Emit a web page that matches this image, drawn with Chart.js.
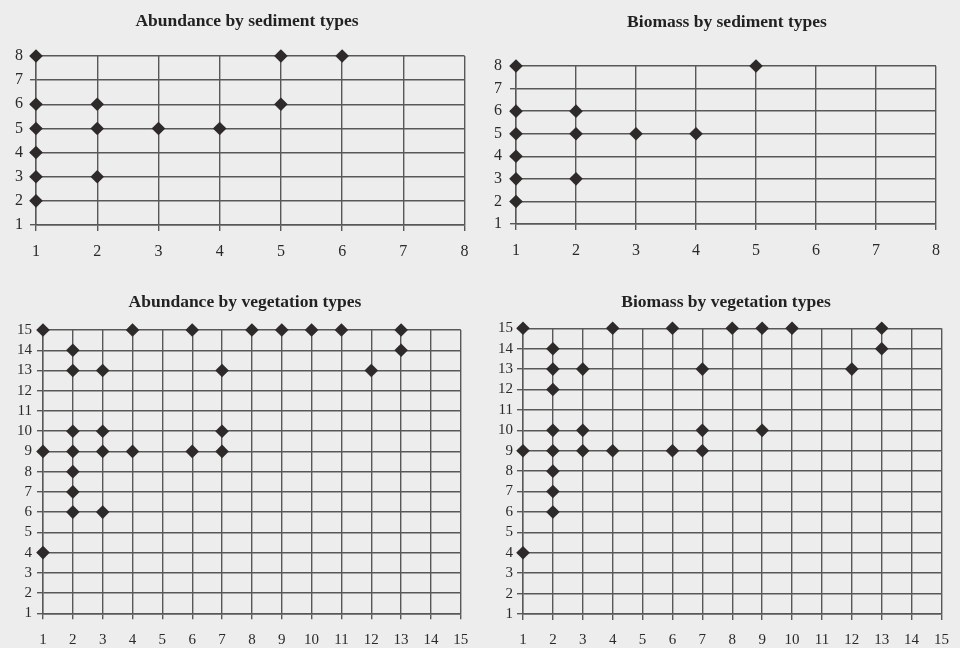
<!DOCTYPE html>
<html lang="en">
<head>
    <meta charset="UTF-8">
    <title>Abundance and biomass by sediment and vegetation types</title>
    <style>
        body {
            margin: 0;
            width: 960px;
            height: 648px;
            background-color: #ededed;
            position: relative;
            overflow: hidden;
        }
        canvas {
            position: absolute;
        }
    </style>
</head>
<body>
    <canvas id="abundSed" width="480" height="270" style="left:0;top:0"></canvas>
    <canvas id="biomSed" width="480" height="270" style="left:480px;top:0"></canvas>
    <canvas id="abundVeg" width="480" height="368" style="left:0;top:280px"></canvas>
    <canvas id="biomVeg" width="480" height="368" style="left:480px;top:280px"></canvas>

    <script src="https://cdn.jsdelivr.net/npm/chart.js"></script>
    <script>
        // tick labels
        const sedimentTicks = [1, 2, 3, 4, 5, 6, 7, 8];
        const vegetationTicks = [1, 2, 3, 4, 5, 6, 7, 8, 9, 10, 11, 12, 13, 14, 15];

        // Abundance by sediment types
        const abundSedX = [1, 1, 1, 1, 1, 1, 2, 2, 2, 3, 4, 5, 5, 6];
        const abundSedY = [8, 6, 5, 4, 3, 2, 6, 5, 3, 5, 5, 8, 6, 8];

        // Biomass by sediment types
        const biomSedX = [1, 1, 1, 1, 1, 1, 2, 2, 2, 3, 4, 5];
        const biomSedY = [8, 6, 5, 4, 3, 2, 6, 5, 3, 5, 5, 8];

        // Abundance by vegetation types
        const abundVegX = [1, 1, 1, 2, 2, 2, 2, 2, 2, 2, 3, 3, 3, 3, 4, 4, 6, 6, 7, 7, 7, 8, 9, 10, 11, 12, 13, 13];
        const abundVegY = [15, 9, 4, 14, 13, 10, 9, 8, 7, 6, 13, 10, 9, 6, 15, 9, 15, 9, 13, 10, 9, 15, 15, 15, 15, 13, 15, 14];

        // Biomass by vegetation types
        const biomVegX = [1, 1, 1, 2, 2, 2, 2, 2, 2, 2, 2, 3, 3, 3, 4, 4, 6, 6, 7, 7, 7, 8, 9, 9, 10, 12, 13, 13];
        const biomVegY = [15, 9, 4, 14, 13, 12, 10, 9, 8, 7, 6, 13, 10, 9, 15, 9, 15, 9, 13, 10, 9, 15, 15, 10, 15, 13, 15, 14];

        const gridColor = '#585858';
        const inkColor = '#2f2a2a';
        const serif = '"Liberation Serif", "DejaVu Serif", serif';

        function makeChart(id, title, xs, ys, ticks, L) {
            const points = xs.map((x, i) => ({ x: x, y: ys[i] }));
            const fixTicks = s => { s.ticks = ticks.map(v => ({ value: v })); };
            const axis = (pos) => ({
                type: 'linear',
                position: pos,
                min: ticks[0],
                max: ticks[ticks.length - 1],
                afterBuildTicks: fixTicks,
                afterFit: s => {
                    if (pos === 'left') s.width = L.yWidth;
                    else s.height = L.xHeight;
                },
                grid: { color: gridColor, lineWidth: 1.4, tickLength: 6, tickColor: gridColor },
                border: { color: gridColor, width: 1.4 },
                ticks: {
                    color: '#2a2a2a',
                    autoSkip: false,
                    maxRotation: 0,
                    padding: pos === 'left' ? L.yPad : L.xPad,
                    font: { family: serif, size: L.tickSize }
                }
            });
            // move the title so it sits where the scan has it
            const titleShift = {
                id: 'titleShift',
                afterLayout(chart) {
                    const tb = chart.titleBlock;
                    const half = (tb.right - tb.left) / 2;
                    tb.left = L.titleX - half;
                    tb.right = L.titleX + half;
                }
            };
            new Chart(document.getElementById(id), {
                type: 'scatter',
                data: {
                    datasets: [{
                        data: points,
                        pointStyle: 'rectRot',
                        pointRadius: 6.8,
                        pointBackgroundColor: inkColor,
                        pointBorderWidth: 0,
                        clip: false
                    }]
                },
                options: {
                    responsive: false,
                    animation: false,
                    layout: { padding: { left: 0, right: L.padRight, top: 0, bottom: 0 } },
                    plugins: {
                        legend: { display: false },
                        tooltip: { enabled: false },
                        title: {
                            display: true,
                            text: title,
                            color: '#222',
                            font: { family: serif, size: L.titleSize, weight: 'bold', lineHeight: 1.2 },
                            padding: { top: L.titleTop, bottom: L.titleBottom }
                        }
                    },
                    scales: { x: axis('bottom'), y: axis('left') }
                },
                plugins: [titleShift]
            });
        }

        makeChart('abundSed', 'Abundance by sediment types', abundSedX, abundSedY, sedimentTicks,
            { padRight: 8, yWidth: 36, xHeight: 45, titleX: 247, titleSize: 17.5, titleTop: 10.5, titleBottom: 24.5, tickSize: 16, xPad: 11.4, yPad: 7 });
        makeChart('biomSed', 'Biomass by sediment types', biomSedX, biomSedY, sedimentTicks,
            { padRight: 24, yWidth: 36, xHeight: 46, titleX: 247, titleSize: 17.5, titleTop: 11.5, titleBottom: 33.5, tickSize: 16, xPad: 11, yPad: 8 });
        makeChart('abundVeg', 'Abundance by vegetation types', abundVegX, abundVegY, vegetationTicks,
            { padRight: 15, yWidth: 43, xHeight: 34.7, titleX: 245, titleSize: 17.5, titleTop: 11.5, titleBottom: 17.5, tickSize: 15, xPad: 11.7, yPad: 5 });
        makeChart('biomVeg', 'Biomass by vegetation types', biomVegX, biomVegY, vegetationTicks,
            { padRight: 10.7, yWidth: 43, xHeight: 34, titleX: 246, titleSize: 17.5, titleTop: 11.8, titleBottom: 15.5, tickSize: 15, xPad: 11, yPad: 4 });
    </script>
</body>
</html>
